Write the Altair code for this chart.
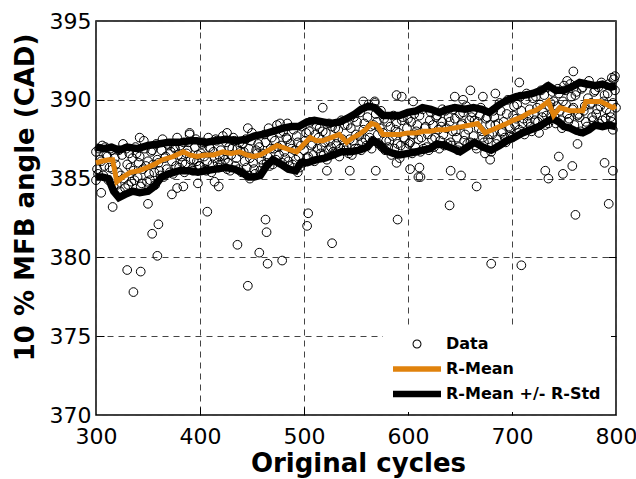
import altair as alt
import pandas as pd

# ---------------- data ----------------
# main cloud of points: even cycles 300..800 and odd cycles 301..799
band_start = 300
band_y = [
    386.7, 385.3, 386.2, 387.1, 385.8, 386.5, 384.9, 386.9, 385.6, 386.3,
    384.6, 386.8, 385.2, 387.2, 384.4, 385.9, 386.6, 384.8, 385.5, 387.0,
    385.1, 386.4, 384.7, 387.4, 385.8, 386.1, 384.9, 386.8, 385.4, 387.2,
    386.0, 385.2, 387.5, 386.3, 385.6, 387.1, 386.7, 385.3, 386.9, 387.6,
    385.7, 386.4, 387.3, 385.9, 386.8, 387.8, 385.6, 386.2, 387.5, 386.5,
    385.8, 387.2, 386.4, 385.5, 387.6, 386.9, 385.9, 386.3, 387.4, 385.7,
    386.8, 387.7, 386.2, 385.6, 387.0, 386.5, 387.6, 385.8, 386.9, 387.3,
    385.4, 386.7, 387.5, 385.2, 386.3, 387.9, 385.6, 386.8, 387.2, 385.5,
    386.6, 387.8, 386.0, 388.2, 386.9, 385.9, 387.4, 388.4, 386.5, 387.1,
    388.0, 386.3, 387.5, 385.8, 386.9, 388.1, 386.2, 387.3, 385.7, 388.3,
    386.8, 387.9, 386.4, 388.6, 387.2, 386.1, 388.4, 387.6, 386.6, 388.0,
    387.3, 386.2, 388.5, 387.0, 386.7, 388.2, 387.6, 386.4, 388.7, 387.1,
    386.8, 388.4, 387.5, 386.5, 388.9, 387.8, 386.9, 389.2, 387.3, 388.5,
    387.1, 389.7, 388.3, 387.4, 389.8, 388.6, 387.2, 389.3, 387.9, 386.8,
    388.6, 387.4, 386.5, 389.0, 388.1, 387.2, 386.3, 388.7, 387.6, 386.9,
    388.8, 387.3, 386.6, 389.1, 388.0, 387.5, 386.7, 389.4, 388.2, 387.0,
    386.8, 389.2, 388.4, 387.6, 389.0, 386.9, 388.3, 387.8, 389.3, 387.2,
    388.6, 387.1, 389.4, 388.0, 386.8, 389.1, 388.5, 387.4, 389.6, 388.1,
    387.3, 389.2, 388.7, 386.9, 388.2, 389.5, 387.6, 386.6, 388.9, 387.8,
    386.7, 389.3, 388.4, 387.5, 389.8, 387.9, 388.6, 387.3, 390.0, 388.2,
    387.6, 389.6, 388.8, 387.9, 390.2, 388.5, 387.8, 390.4, 389.0, 388.3,
    390.1, 388.7, 389.5, 387.9, 390.6, 389.2, 388.4, 390.8, 389.6, 388.9,
    389.9, 388.5, 390.7, 389.3, 388.2, 390.9, 389.7, 388.6, 391.0, 389.4,
    388.4, 390.5, 389.1, 388.0, 390.8, 389.6, 388.3, 391.2, 389.8, 388.7,
    390.6, 389.4, 388.5, 391.1, 389.9, 388.8, 390.4, 389.2, 388.6, 391.3,
    389.5,
]
band2_start = 301
band2_y = [
    385.6, 386.9, 386.1, 385.2, 387.0, 386.4, 385.7, 386.8, 384.5, 385.9,
    385.4, 384.2, 386.5, 385.0, 386.9, 384.6, 385.7, 386.3, 384.9, 386.6,
    386.0, 384.5, 385.6, 386.9, 384.8, 385.3, 386.7, 385.9, 384.6, 386.2,
    385.5, 386.8, 385.1, 386.4, 387.2, 385.4, 386.1, 387.0, 385.8, 386.5,
    387.1, 386.0, 385.4, 386.6, 387.3, 386.2, 385.5, 387.0, 386.1, 385.8,
    386.6, 387.3, 385.6, 386.1, 387.0, 385.4, 386.7, 387.5, 386.0, 386.4,
    385.9, 386.5, 387.3, 386.0, 385.5, 386.9, 387.4, 386.3, 385.6, 386.7,
    387.2, 386.1, 385.7, 386.9, 387.4, 386.0, 385.3, 386.6, 387.0, 386.2,
    385.9, 387.3, 386.4, 385.8, 387.6, 386.9, 386.2, 387.0, 387.9, 386.0,
    386.7, 387.6, 386.1, 387.2, 385.9, 386.8, 387.7, 386.4, 387.1, 386.0,
    387.4, 386.3, 388.0, 387.1, 386.5, 387.8, 386.9, 388.2, 387.0, 386.5,
    387.9, 386.8, 387.4, 388.3, 386.6, 387.2, 388.1, 386.9, 387.5, 388.4,
    387.0, 386.6, 388.2, 387.4, 386.9, 388.6, 387.7, 386.8, 388.1, 387.5,
    388.9, 387.6, 386.9, 388.4, 389.1, 387.8, 388.2, 387.0, 388.8, 387.4,
    387.0, 388.3, 387.7, 386.9, 388.5, 387.9, 387.1, 388.9, 387.5, 388.2,
    387.2, 388.6, 387.8, 387.0, 388.4, 389.0, 387.6, 386.9, 388.3, 387.8,
    388.7, 387.5, 387.0, 388.9, 388.1, 387.4, 388.6, 387.1, 388.2, 388.9,
    387.3, 388.0, 388.8, 387.6, 387.0, 388.4, 389.2, 387.8, 387.2, 388.7,
    388.9, 387.7, 387.1, 388.6, 389.0, 388.0, 387.3, 388.8, 387.5, 388.4,
    387.8, 388.9, 387.2, 388.5, 389.3, 388.0, 387.6, 389.1, 388.3, 387.7,
    389.0, 388.4, 389.7, 388.1, 389.3, 388.8, 390.0, 388.6, 389.4, 388.0,
    389.1, 390.2, 388.6, 389.7, 388.9, 390.3, 389.0, 388.5, 389.8, 390.5,
    388.9, 389.6, 390.4, 388.7, 389.9, 390.6, 389.1, 388.8, 390.2, 389.5,
    390.3, 389.0, 388.9, 390.7, 389.3, 388.6, 390.1, 389.7, 388.9, 390.5,
    389.1, 390.8, 389.6, 388.7, 390.3, 389.4, 391.0, 388.9, 389.8, 390.6,
]

outlier_x = [300, 305, 316, 330, 336, 343, 350, 354, 359, 360, 373, 378, 384,
             398, 407, 414, 418, 436, 446, 448, 457, 463, 464, 465, 479, 494,
             503, 504, 518, 522, 527, 544, 557, 568, 569, 589, 589, 590, 594,
             602, 605, 610, 611, 612, 633, 640, 641, 645, 651, 653, 660, 666,
             672, 679, 680, 684, 707, 709, 732, 735, 745, 749, 753, 758, 759,
             761, 763, 789, 793, 796, 797, 797, 799, 342, 390, 426, 446, 477,
             484]
outlier_y = [384.9, 384.1, 383.2, 379.2, 377.8, 379.1, 383.4, 381.5, 380.1,
             382.1, 384.0, 384.4, 384.5, 384.7, 382.9, 384.8, 384.5, 380.8,
             378.2, 385.0, 380.3, 382.4, 381.6, 379.6, 379.8, 385.4, 382.0,
             382.8, 389.5, 385.5, 380.9, 385.5, 389.9, 389.9, 385.5, 386.0,
             390.3, 382.4, 390.2, 385.6, 389.9, 385.1, 385.7, 385.1, 389.4,
             383.3, 385.5, 390.2, 385.2, 390.0, 390.6, 384.5, 390.2, 386.2,
             379.6, 390.4, 391.1, 379.5, 385.5, 385.0, 386.4, 385.3, 391.2,
             385.8, 391.8, 382.7, 387.2, 386.0, 383.4, 391.4, 385.5, 388.1,
             391.5, 387.6, 387.9, 387.9, 388.2, 388.5, 388.5]

mean_x = [300, 305, 312, 316, 320, 326, 333, 341, 349, 356, 364, 374, 384,
          390, 397, 405, 413, 422, 430, 438, 445, 451, 458, 466, 474, 483,
          493, 500, 506, 512, 518, 526, 534, 541, 547, 553, 559, 565, 570,
          576, 584, 592, 600, 608, 615, 621, 628, 636, 643, 652, 660, 667,
          674, 681, 688, 695, 701, 709, 717, 722, 727, 735, 740, 746, 751,
          756, 762, 768, 771, 778, 785, 791, 797, 800]
mean_y = [386.0, 386.1, 386.2, 386.2, 384.8, 385.1, 385.4, 385.5, 385.7,
          385.9, 386.2, 386.4, 386.7, 386.5, 386.4, 386.5, 386.5, 386.7,
          386.6, 386.7, 386.5, 386.4, 386.5, 386.8, 387.1, 386.9, 386.7,
          387.2, 387.6, 387.4, 387.4, 387.6, 387.8, 387.3, 387.6, 387.8,
          388.1, 388.5, 388.4, 387.8, 387.8, 387.8, 387.9, 387.9, 388.0,
          388.0, 388.1, 388.1, 388.2, 388.3, 388.4, 388.5, 387.9, 388.1,
          388.3, 388.5, 388.7, 388.9, 389.2, 389.3, 389.5, 389.9, 389.0,
          389.5, 389.4, 389.3, 389.3, 389.3, 389.9, 389.9, 389.9, 389.7,
          389.5, 389.6]

upper_x = [300, 308, 315, 322, 330, 340, 350, 360, 370, 380, 390, 397, 405,
           415, 425, 435, 445, 452, 460, 470, 480, 488, 495, 503, 510, 518,
           526, 534, 541, 549, 555, 562, 568, 576, 585, 592, 600, 608, 614,
           622, 630, 638, 645, 655, 663, 671, 678, 688, 696, 704, 712, 720,
           728, 735, 742, 750, 757, 765, 772, 780, 787, 795, 800]
upper_y = [387.0, 386.9, 387.0, 386.8, 387.0, 386.9, 387.1, 387.2, 387.3,
           387.3, 387.4, 387.4, 387.3, 387.4, 387.5, 387.4, 387.5, 387.7,
           387.8, 388.0, 388.2, 388.3, 388.3, 388.6, 388.7, 388.6, 388.5,
           388.6, 388.8, 389.1, 389.4, 389.6, 389.5, 389.0, 389.0, 389.0,
           389.2, 389.3, 389.5, 389.4, 389.2, 389.4, 389.5, 389.4, 389.5,
           389.4, 389.2, 389.7, 390.0, 390.2, 390.3, 390.4, 390.6, 390.9,
           390.6, 390.6, 390.8, 391.1, 391.0, 390.9, 391.0, 390.8, 390.9]

lower_x = [300, 306, 312, 317, 322, 328, 335, 342, 350, 356, 363, 370, 380,
           390, 398, 405, 415, 425, 433, 440, 447, 452, 458, 464, 470, 478,
           485, 492, 497, 503, 512, 520, 528, 536, 545, 553, 561, 566, 572,
           578, 586, 592, 600, 608, 614, 621, 628, 636, 643, 650, 657, 664,
           672, 680, 688, 695, 702, 710, 718, 726, 733, 739, 745, 750, 756,
           762, 768, 774, 780, 787, 793, 800]
lower_y = [385.1, 385.1, 385.0, 384.2, 383.8, 384.0, 384.2, 384.1, 384.2,
           384.5, 385.1, 385.3, 385.5, 385.5, 385.4, 385.5, 385.6, 385.7,
           385.6, 385.4, 385.1, 385.1, 385.2, 385.8, 386.2, 385.9, 385.6,
           385.5, 386.0, 386.0, 386.2, 386.3, 386.5, 386.7, 386.7, 386.8,
           387.0, 387.4, 387.2, 386.8, 386.6, 386.5, 386.6, 386.7, 386.8,
           386.9, 387.2, 387.1, 386.9, 386.7, 387.0, 387.3, 387.0, 386.8,
           387.1, 387.4, 387.6, 387.9, 388.1, 388.3, 388.6, 388.8, 388.6,
           388.3, 388.2, 388.0, 387.9, 388.1, 388.4, 388.3, 388.4, 388.3]

legend_labels = ["Data", "R-Mean", "R-Mean +/- R-Std"]
x_ticks = [300, 400, 500, 600, 700, 800]
y_ticks = [370, 375, 380, 385, 390, 395]

# ---------------- tables ----------------
band_x = list(range(band_start, band_start + 2 * len(band_y), 2))
band2_x = list(range(band2_start, band2_start + 2 * len(band2_y), 2))
assert len(outlier_x) == len(outlier_y)
assert len(mean_x) == len(mean_y)
assert len(upper_x) == len(upper_y)
assert len(lower_x) == len(lower_y)

scatter_df = pd.DataFrame({"cycle": band_x + band2_x + outlier_x,
                           "angle": band_y + band2_y + outlier_y})
mean_df = pd.DataFrame({"cycle": mean_x, "angle": mean_y})
std_df = pd.concat([
    pd.DataFrame({"cycle": upper_x, "angle": upper_y, "band": "upper"}),
    pd.DataFrame({"cycle": lower_x, "angle": lower_y, "band": "lower"}),
])
# legend-only rows, placed outside the x domain and clipped away
legend_df = pd.DataFrame({"series": legend_labels,
                          "cycle": [0, 0, 0], "angle": [380, 380, 380]})

ORANGE = "#E0820C"
FONT = "DejaVu Sans"

xscale = alt.Scale(domain=[300, 800], nice=False, zero=False)
yscale = alt.Scale(domain=[370, 395], nice=False, zero=False)

x_main_axis = alt.Axis(values=x_ticks, grid=True, ticks=False, tickSize=0,
                       domain=False, labelPadding=11, labelFlush=False,
                       labelOverlap=False, title="Original cycles",
                       titleX=262, titleY=56, titleBaseline="alphabetic",
                       titleAlign="center")
y_main_axis = alt.Axis(values=y_ticks, grid=True, ticks=False, tickSize=0,
                       domain=False, labelPadding=5, labelFlush=False,
                       labelOverlap=False, title="10 % MFB angle (CAD)",
                       titleX=-63, titleY=176, titleAngle=270,
                       titleBaseline="alphabetic", titleAlign="center")

points = alt.Chart(scatter_df).mark_point(
    shape="circle", filled=False, color="black", size=76, strokeWidth=1, opacity=1
).encode(
    x=alt.X("cycle:Q", scale=xscale, axis=x_main_axis),
    y=alt.Y("angle:Q", scale=yscale, axis=y_main_axis),
)

std_lines = alt.Chart(std_df).mark_line(color="black", strokeWidth=7.5).encode(
    x=alt.X("cycle:Q", scale=xscale, axis=None),
    y=alt.Y("angle:Q", scale=yscale, axis=None),
    detail="band:N",
)

mean_line = alt.Chart(mean_df).mark_line(color=ORANGE, strokeWidth=5).encode(
    x=alt.X("cycle:Q", scale=xscale, axis=None),
    y=alt.Y("angle:Q", scale=yscale, axis=None),
)

# legend symbols: symbolSize 64 -> path unit = 4 px
ring = ("M1.125,0A1.125,1.125,0,1,1,-1.125,0A1.125,1.125,0,1,1,1.125,0Z"
        "M0.875,0A0.875,0.875,0,1,0,-0.875,0A0.875,0.875,0,1,0,0.875,0Z")
bar_orange = "M-6,-0.7L6,-0.7L6,0.7L-6,0.7Z"
bar_black = "M-6,-0.82L6,-0.82L6,0.82L-6,0.82Z"

leg = alt.Legend(orient="none", legendX=287, legendY=305, fillColor="white",
                 padding=10, labelFont=FONT, labelFontSize=16,
                 labelFontWeight="bold", labelColor="black", labelOffset=21,
                 symbolOffset=16, rowPadding=9, symbolSize=64,
                 symbolStrokeWidth=0, symbolOpacity=1, labelLimit=400)

legend_layer = alt.Chart(legend_df).mark_point(
    filled=True, clip=True, size=64, opacity=1
).encode(
    x=alt.X("cycle:Q", scale=xscale, axis=None),
    y=alt.Y("angle:Q", scale=yscale, axis=None),
    color=alt.Color("series:N", title=None, legend=leg,
                    scale=alt.Scale(domain=legend_labels,
                                    range=["black", ORANGE, "black"])),
    shape=alt.Shape("series:N", title=None, legend=leg,
                    scale=alt.Scale(domain=legend_labels,
                                    range=[ring, bar_orange, bar_black])),
)

def tick_axis(orient, vals):
    return alt.Axis(orient=orient, offset=-8, tickSize=8, ticks=True,
                    tickColor="black", tickWidth=1, labels=False,
                    domain=False, grid=False, title=None, values=vals)

ticks_bl = alt.Chart(legend_df).mark_point(clip=True, opacity=0).encode(
    x=alt.X("cycle:Q", scale=xscale, axis=tick_axis("bottom", x_ticks[1:-1])),
    y=alt.Y("angle:Q", scale=yscale, axis=tick_axis("left", y_ticks[1:-1])),
)
ticks_tr = alt.Chart(legend_df).mark_point(clip=True, opacity=0).encode(
    x=alt.X("cycle:Q", scale=xscale, axis=tick_axis("top", x_ticks[1:-1])),
    y=alt.Y("angle:Q", scale=yscale, axis=tick_axis("right", y_ticks[1:-1])),
)

chart = alt.layer(
    points, std_lines, mean_line, legend_layer, ticks_bl, ticks_tr
).resolve_axis(
    x="independent", y="independent"
).properties(
    width=520, height=394,
    autosize=alt.AutoSizeParams(type="none"),
    padding={"left": 96, "top": 21, "right": 20, "bottom": 64},
    background="white",
).configure_view(
    stroke="black", strokeWidth=1.5
).configure_axis(
    labelFont=FONT, labelFontSize=22, labelColor="black",
    titleFont=FONT, titleFontSize=26, titleFontWeight="bold", titleColor="black",
    gridColor="#444444", gridDash=[6, 5], gridWidth=1, gridOpacity=1,
)

chart.save("out.html", embed_options={"renderer": "svg", "actions": False})
